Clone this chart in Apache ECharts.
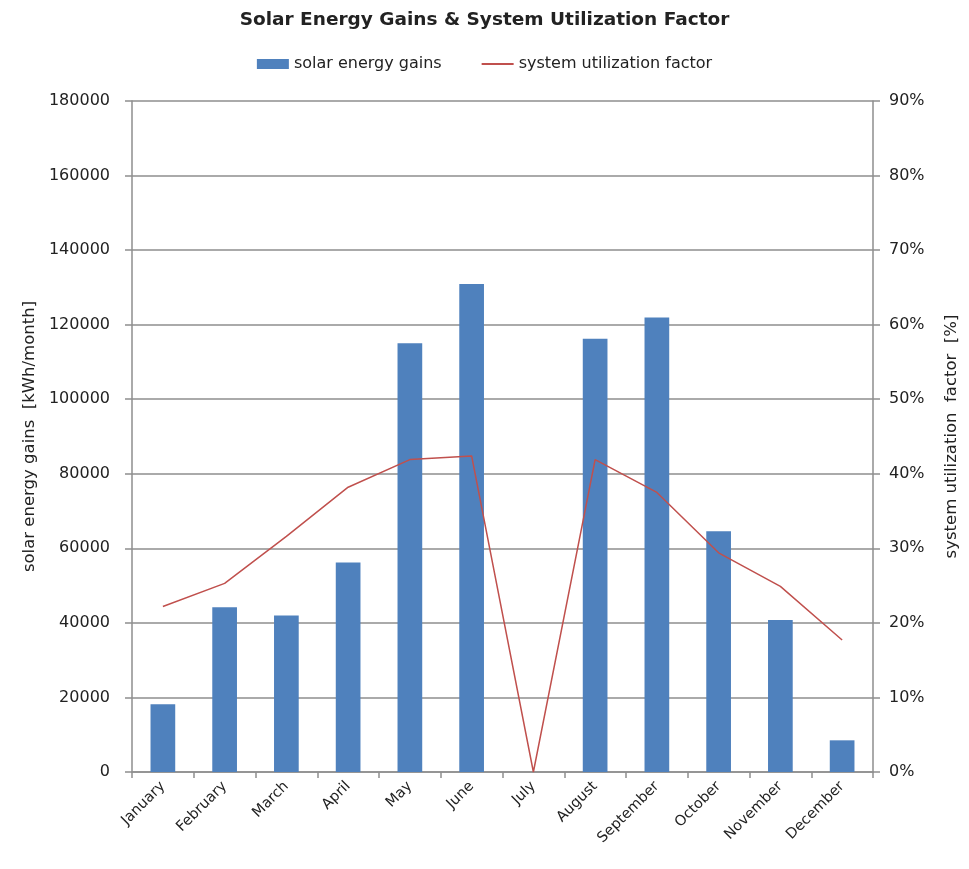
<!DOCTYPE html>
<html>
<head>
<meta charset="utf-8">
<script src="https://cdn.jsdelivr.net/npm/echarts@6/dist/echarts.min.js"></script>
<style>
  html, body { margin: 0; padding: 0; background: #fff; }
  #chart { width: 969px; height: 869px; }
</style>
</head>
<body>
<div id="chart"></div>
<script>
// Monthly solar energy gains [kWh/month] and system utilization factor [%]
const months = ['January', 'February', 'March', 'April', 'May', 'June',
                'July', 'August', 'September', 'October', 'November', 'December'];
const solarGains = [18200, 44200, 42000, 56200, 115000, 130900,
                    0, 116200, 121900, 64600, 40800, 8500];
const utilization = [22.2, 25.3, 31.6, 38.2, 41.9, 42.4,
                     0, 41.9, 37.5, 29.4, 24.9, 17.7];
const leftTicks = { min: 0, max: 180000, interval: 20000 };
const rightTicks = { min: 0, max: 90, interval: 10 };

const font = '"DejaVu Sans", "Liberation Sans", sans-serif';
const textColor = '#222222';
const gridColor = '#8e8e8e';

const chart = echarts.init(document.getElementById('chart'), null, { renderer: 'canvas' });
chart.setOption({
  backgroundColor: '#ffffff',
  animation: false,
  title: {
    text: 'Solar Energy Gains & System Utilization Factor',
    left: 'center',
    top: 6,
    textStyle: { fontFamily: font, fontSize: 18.5, fontWeight: 'bold', color: textColor }
  },
  legend: {
    top: 51,
    left: 'center',
    itemGap: 40,
    itemWidth: 32,
    itemHeight: 10,
    textStyle: { fontFamily: font, fontSize: 16, color: textColor },
    data: [
      { name: 'solar energy gains', icon: 'rect' },
      { name: 'system utilization factor', icon: 'path://M0,0 L24,0 L24,1.5 L0,1.5 Z' }
    ]
  },
  grid: { left: 132, right: 96, top: 101, bottom: 97, containLabel: false },
  xAxis: {
    type: 'category',
    data: months,
    boundaryGap: true,
    axisLine: { lineStyle: { color: gridColor, width: 1.5 } },
    axisTick: { show: true, alignWithLabel: false, length: 6, lineStyle: { color: gridColor, width: 1.5 } },
    axisLabel: {
      interval: 0,
      rotate: 45,
      margin: 12,
      fontFamily: font,
      fontSize: 14.5,
      color: textColor
    }
  },
  yAxis: [
    {
      type: 'value',
      min: leftTicks.min,
      max: leftTicks.max,
      interval: leftTicks.interval,
      name: 'solar energy gains  [kWh/month]',
      nameLocation: 'middle',
      nameGap: 90,
      nameRotate: 90,
      nameTextStyle: { fontFamily: font, fontSize: 16.5, color: textColor },
      axisLine: { show: true, lineStyle: { color: gridColor, width: 1.5 } },
      axisTick: { show: true, inside: false, length: 7, lineStyle: { color: gridColor, width: 1.5 } },
      axisLabel: { formatter: v => String(v), fontFamily: font, fontSize: 16, color: textColor, margin: 22 },
      splitLine: { show: true, lineStyle: { color: gridColor, width: 1.5 } }
    },
    {
      type: 'value',
      position: 'right',
      min: rightTicks.min,
      max: rightTicks.max,
      interval: rightTicks.interval,
      name: 'system utilization  factor  [%]',
      nameLocation: 'middle',
      nameGap: 70,
      nameRotate: 90,
      nameTextStyle: { fontFamily: font, fontSize: 16.5, color: textColor },
      axisLine: { show: true, lineStyle: { color: gridColor, width: 1.5 } },
      axisTick: { show: true, inside: false, length: 7, lineStyle: { color: gridColor, width: 1.5 } },
      axisLabel: { formatter: '{value}%', fontFamily: font, fontSize: 16, color: textColor, margin: 16 },
      splitLine: { show: false }
    }
  ],
  series: [
    {
      name: 'solar energy gains',
      type: 'bar',
      yAxisIndex: 0,
      data: solarGains,
      barWidth: '40%',
      itemStyle: { color: '#4f81bd' }
    },
    {
      name: 'system utilization factor',
      type: 'line',
      yAxisIndex: 1,
      data: utilization,
      symbol: 'none',
      lineStyle: { color: '#c0504d', width: 1.5 },
      itemStyle: { color: '#c0504d' }
    }
  ]
});
</script>
</body>
</html>
